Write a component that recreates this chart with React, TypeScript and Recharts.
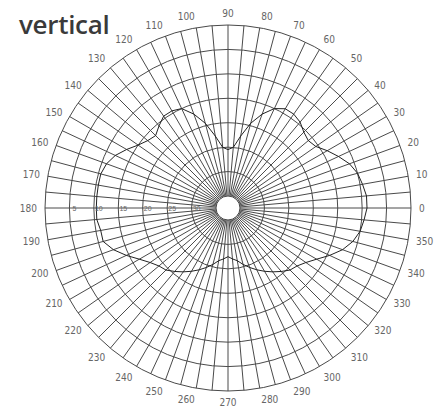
import React from 'react';
import { RadarChart, Radar, PolarGrid, PolarAngleAxis, PolarRadiusAxis } from 'recharts';

const angles: number[] = Array.from({ length: 72 }, (_, i) => i * 5);

// pattern level (grid ring units, 0 = inner ring, 7 = outer ring), one per 5 degrees, 0..355
const levels: number[] = [
  5.2, 5.2, 5.1, 5.0, 4.8, 4.5, 4.2, 3.9, 3.8, 3.9, 4.1, 4.2, 4.2, 4.0, 3.6, 3.1, 2.5, 2.0,
  1.9, 2.0, 2.5, 3.1, 3.6, 4.0, 4.1, 4.1, 3.9, 3.7, 3.8, 4.0, 4.3, 4.6, 4.8, 4.9, 4.9, 4.9,
  4.9, 4.9, 4.8, 4.8, 4.5, 4.1, 3.7, 3.4, 3.2, 3.1, 2.9, 2.7, 2.5, 2.3, 2.1, 1.9, 1.7, 1.6,
  1.5, 1.6, 1.7, 1.9, 2.1, 2.3, 2.5, 2.7, 2.9, 3.1, 3.2, 3.4, 3.7, 4.1, 4.5, 4.8, 5.0, 5.1,
];

const ringTicks: number[] = [0, 1, 2, 3, 4, 5, 6, 7];
const ringLabels: string[] = ['', '30', '25', '20', '15', '10', '5', ''];

const data = angles.map((a, i) => ({ angle: a, level: levels[i] }));

const RingTick = (props: any) => {
  const { x, y, payload } = props;
  const label = ringLabels[payload.value] ?? '';
  if (!label) return null;
  return (
    <text
      x={x + 5}
      y={y}
      dy={2.5}
      textAnchor="middle"
      fontSize={7}
      fill="#666"
      fontFamily='"Liberation Sans", sans-serif'
    >
      {label}
    </text>
  );
};

export default function App() {
  return (
    <div style={{ position: 'absolute', left: 0, top: 0, width: 446, height: 408, background: '#fff' }}>
      <RadarChart
        width={446}
        height={408}
        data={data}
        cx={228}
        cy={208}
        innerRadius={12}
        outerRadius={183}
        startAngle={0}
        endAngle={360}
        margin={{ top: 0, right: 0, bottom: 0, left: 0 }}
      >
        <PolarGrid gridType="circle" stroke="#4a4a4a" strokeWidth={1} />
        <PolarAngleAxis
          dataKey="angle"
          type="number"
          domain={[0, 360]}
          ticks={angles as any}
          tickLine={false}
          axisLine={false}
          tick={{ fontSize: 10, fill: '#666', fontFamily: '"DejaVu Sans Condensed", "Liberation Sans", sans-serif' }}
          tickFormatter={(v: number) => (v % 10 === 0 ? String(v) : '')}
        />
        <PolarRadiusAxis
          angle={180}
          domain={[0, 7]}
          ticks={ringTicks as any}
          axisLine={false}
          tickLine={false}
          tick={RingTick}
        />
        <Radar
          dataKey="level"
          stroke="#222"
          strokeWidth={1}
          fill="none"
          dot={false}
          isAnimationActive={false}
        />
      </RadarChart>
      <div
        style={{
          position: 'absolute',
          left: 19,
          top: 6,
          fontFamily: '"Open Sans", sans-serif',
          fontWeight: 600,
          fontSize: 26,
          color: '#3a3a3a',
          letterSpacing: -0.3,
        }}
      >
        vertical
      </div>
    </div>
  );
}
